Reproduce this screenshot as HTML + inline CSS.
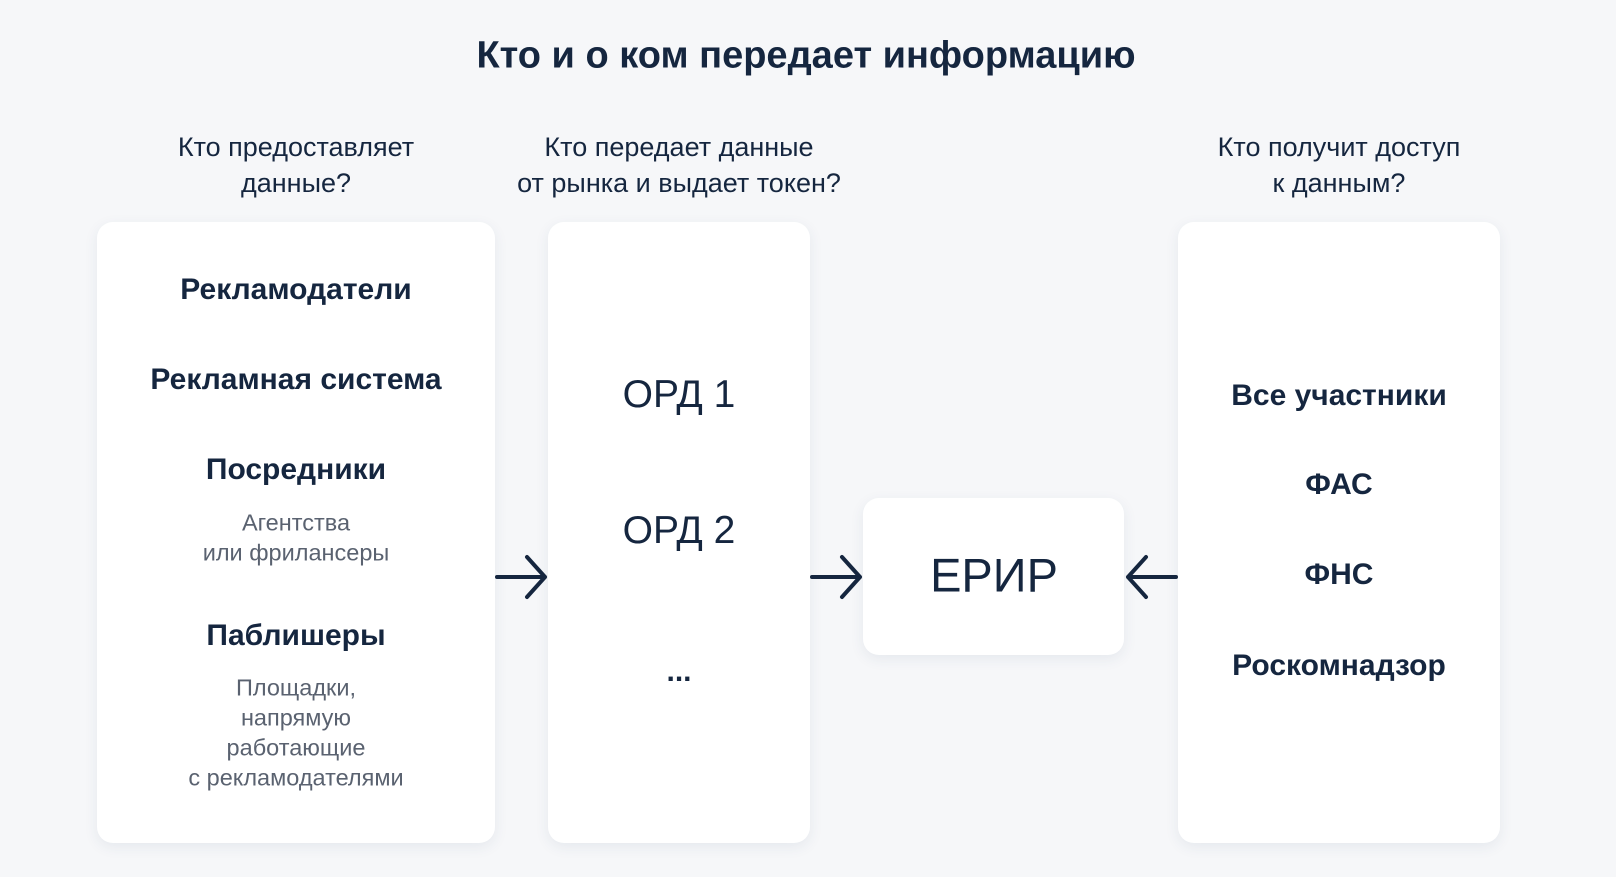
<!DOCTYPE html>
<html><head><meta charset="utf-8"><style>
body{margin:0;width:1616px;height:877px;background:#f6f7f9;font-family:"Liberation Sans","DejaVu Sans",sans-serif;color:#15263f;position:relative;overflow:hidden}
.t{position:absolute;transform:translate(-50%,-50%);white-space:nowrap;text-align:center}
.box{position:absolute;background:#fff;border-radius:16px;box-shadow:0 4px 14px rgba(40,60,100,.08)}
.b{font-weight:bold;font-size:30px}
.s{font-size:23.5px;color:#5a6270}
.h{font-size:27px;line-height:36px}
</style></head><body>
<div class="t" style="left:806px;top:56px;font-size:38px;font-weight:bold">Кто и о ком передает информацию</div>
<div class="t h" style="left:296px;top:165px">Кто предоставляет<br>данные?</div>
<div class="t h" style="left:679px;top:165px">Кто передает данные<br>от рынка и выдает токен?</div>
<div class="t h" style="left:1339px;top:165px">Кто получит доступ<br>к данным?</div>
<div class="box" style="left:97px;top:222px;width:398px;height:621px"></div>
<div class="box" style="left:548px;top:222px;width:262px;height:621px"></div>
<div class="box" style="left:863px;top:498px;width:261px;height:157px"></div>
<div class="box" style="left:1178px;top:222px;width:322px;height:621px"></div>
<div class="t b" style="left:296px;top:290px">Рекламодатели</div>
<div class="t b" style="left:296px;top:380px">Рекламная система</div>
<div class="t b" style="left:296px;top:470px">Посредники</div>
<div class="t s" style="left:296px;top:523px">Агентства</div>
<div class="t s" style="left:296px;top:553px">или фрилансеры</div>
<div class="t b" style="left:296px;top:636px">Паблишеры</div>
<div class="t s" style="left:296px;top:688px">Площадки,</div>
<div class="t s" style="left:296px;top:718px">напрямую</div>
<div class="t s" style="left:296px;top:748px">работающие</div>
<div class="t s" style="left:296px;top:778px">с рекламодателями</div>
<div class="t" style="left:679px;top:395px;font-size:39px">ОРД 1</div>
<div class="t" style="left:679px;top:531px;font-size:39px">ОРД 2</div>
<div class="t" style="left:679px;top:672px;font-size:30px;font-weight:bold">...</div>
<div class="t" style="left:994px;top:575px;font-size:47px">ЕРИР</div>
<div class="t b" style="left:1339px;top:396px">Все участники</div>
<div class="t b" style="left:1339px;top:485px">ФАС</div>
<div class="t b" style="left:1339px;top:575px">ФНС</div>
<div class="t b" style="left:1339px;top:666px">Роскомнадзор</div>
<svg style="position:absolute;left:0;top:0" width="1616" height="877" fill="none" stroke="#15263f" stroke-width="4" stroke-linecap="round" stroke-linejoin="round">
<path d="M497 577H545M527 557L545 577L527 597"/>
<path d="M812 577H860M842 557L860 577L842 597"/>
<path d="M1176 577H1128M1146 557L1128 577L1146 597"/>
</svg>
</body></html>
